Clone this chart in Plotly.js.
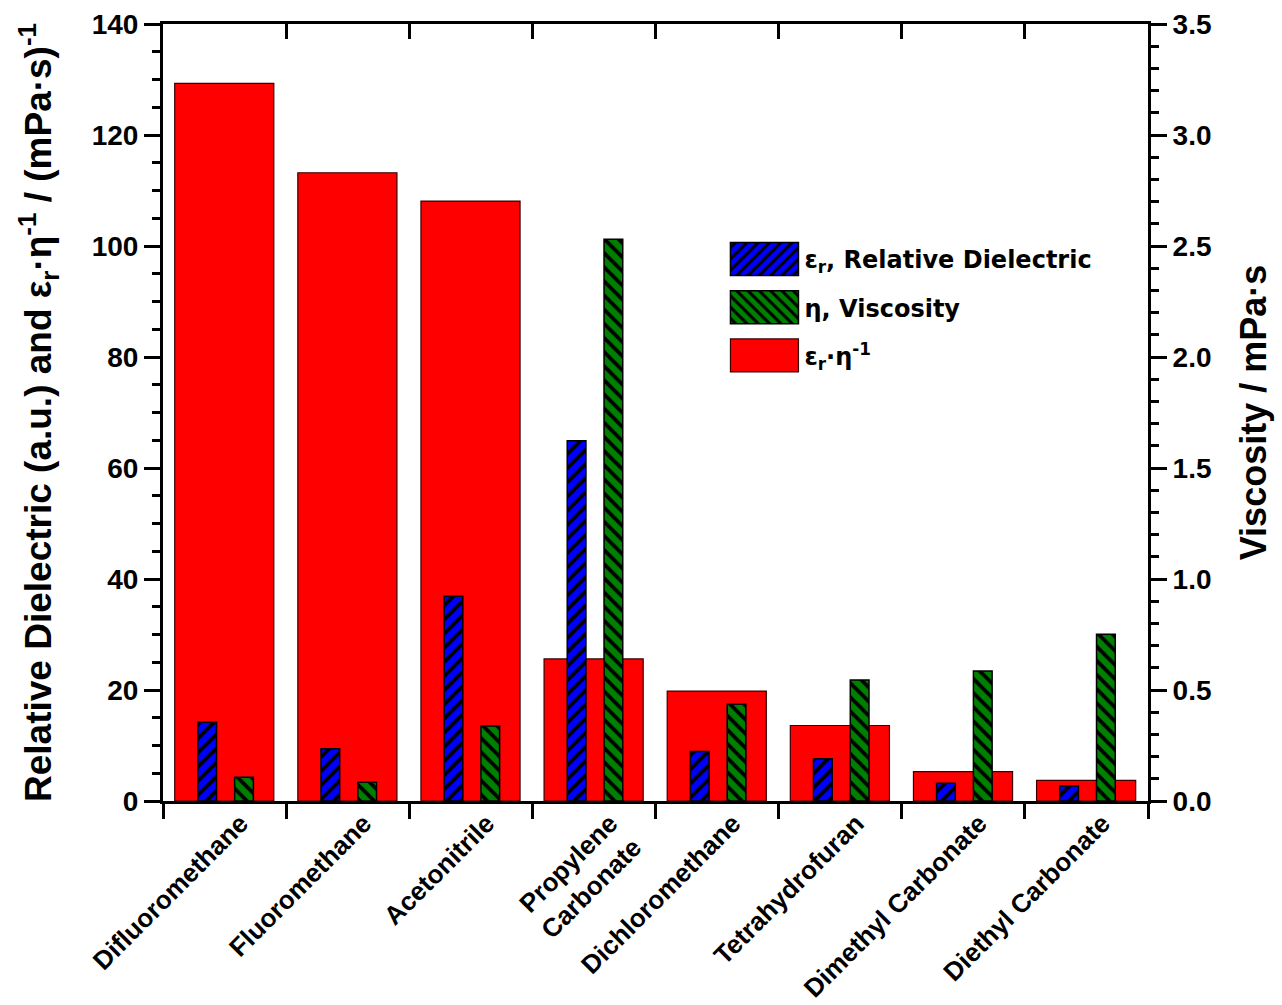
<!DOCTYPE html>
<html>
<head>
<meta charset="utf-8">
<script src="https://cdn.plot.ly/plotly-3.0.1.min.js"></script>
<style>html,body{margin:0;padding:0;background:#fff;}#chart{width:1282px;height:1005px;}</style>
</head>
<body>
<div id="chart"></div>
<script>
const categories = ['Difluoromethane','Fluoromethane','Acetonitrile','Propylene<br>Carbonate','Dichloromethane','Tetrahydrofuran','Dimethyl Carbonate','Diethyl Carbonate'];
const dielectric = [14.2, 9.4, 36.9, 64.9, 8.9, 7.6, 3.2, 2.7];
const viscosity = [0.107, 0.084, 0.338, 2.53, 0.436, 0.545, 0.586, 0.751];
const ratio = [129.3, 113.2, 108.1, 25.6, 19.8, 13.6, 5.3, 3.7];

const seriesNames = ['ε<sub>r</sub>, Relative Dielectric', 'η, Viscosity', 'ε<sub>r</sub>·η<sup>-1</sup>'];
const leftTitle = 'Relative Dielectric (a.u.) and ε<sub>r</sub>·η<sup>-1</sup> / (mPa·s)<sup>-1</sup>';
const rightTitle = 'Viscosity / mPa·s';

const TXT = '#000';
const baseFont = {family: 'Liberation Sans, Arial, sans-serif', weight: 'bold', color: TXT};

const traces = [
  {
    type: 'bar', name: seriesNames[2], x: categories, y: ratio,
    xaxis: 'x', yaxis: 'y', offset: -0.405, width: 0.805,
    marker: {color: '#FF0000', line: {color: '#3a0000', width: 1.2}},
    legendrank: 3, legendgroup: 'c', hoverinfo: 'skip'
  },
  {
    type: 'bar', name: seriesNames[0], x: categories, y: dielectric,
    xaxis: 'x', yaxis: 'y', offset: -0.217, width: 0.152,
    marker: {color: '#0000FF', line: {color: '#000', width: 1.5},
      pattern: {shape: '/', size: 10, solidity: 0.38, fgcolor: '#000', bgcolor: '#0000FF', fillmode: 'replace'}},
    legendrank: 1, legendgroup: 'a', hoverinfo: 'skip'
  },
  {
    type: 'bar', name: seriesNames[1], x: categories, y: viscosity,
    xaxis: 'x2', yaxis: 'y2', offset: 0.082, width: 0.152,
    marker: {color: '#008000', line: {color: '#000', width: 1.5},
      pattern: {shape: '\\', size: 10, solidity: 0.38, fgcolor: '#000', bgcolor: '#008000', fillmode: 'replace'}},
    legendrank: 2, legendgroup: 'b', hoverinfo: 'skip'
  }
];

const axisCommon = {
  showline: true, linewidth: 3, linecolor: '#000', showgrid: false, zeroline: false,
  ticks: 'outside', tickwidth: 3, tickcolor: '#000', ticklen: 16,
  tickfont: Object.assign({size: 28}, baseFont)
};

const layout = {
  width: 1282, height: 1005,
  margin: {l: 163, r: 134, t: 24, b: 204},
  paper_bgcolor: '#fff', plot_bgcolor: '#fff',
  font: baseFont,
  barmode: 'overlay',
  showlegend: true,
  legend: {
    x: 0.57, y: 0.726, xanchor: 'left', yanchor: 'top',
    bgcolor: 'rgba(0,0,0,0)', borderwidth: 0,
    itemwidth: 70, tracegroupgap: 14,
    font: {family: 'DejaVu Sans, sans-serif', weight: 'bold', size: 24, color: TXT},
    itemclick: false, itemdoubleclick: false
  },
  xaxis: Object.assign({}, axisCommon, {
    type: 'category', range: [-0.5, 7.5], tickson: 'boundaries',
    tickangle: -45, ticklen: 15, mirror: true, ticklabelshift: 16, ticklabelstandoff: -6,
    tickfont: Object.assign({size: 26}, baseFont)
  }),
  xaxis2: {
    type: 'category', overlaying: 'x', side: 'top', anchor: 'y', range: [-0.5, 7.5],
    tickson: 'boundaries', ticks: 'inside', ticklen: 15, tickwidth: 3, tickcolor: '#000',
    showticklabels: false, showline: false, showgrid: false, zeroline: false
  },
  yaxis: Object.assign({}, axisCommon, {
    range: [0, 140], dtick: 20, tick0: 0, mirror: true,
    minor: {dtick: 5, ticks: 'outside', ticklen: 8, tickwidth: 3, tickcolor: '#000', showgrid: false},
    title: {text: leftTitle, font: Object.assign({size: 37}, baseFont), standoff: 29}
  }),
  yaxis2: Object.assign({}, axisCommon, {
    overlaying: 'y', side: 'right', anchor: 'x', range: [0, 3.5], dtick: 0.5, tick0: 0,
    tickformat: '.1f',
    minor: {dtick: 0.1, ticks: 'outside', ticklen: 8, tickwidth: 3, tickcolor: '#000', showgrid: false},
    title: {text: rightTitle, font: Object.assign({size: 36}, baseFont), standoff: 31}
  })
};

Plotly.newPlot('chart', traces, layout, {displayModeBar: false, staticPlot: true}).then(function(gd) {
  gd.querySelectorAll('.legend .legendpoints path').forEach(function(p) {
    p.setAttribute('d', 'M34,16.5H-34V-16.5H34Z');
  });
});
</script>
</body>
</html>
